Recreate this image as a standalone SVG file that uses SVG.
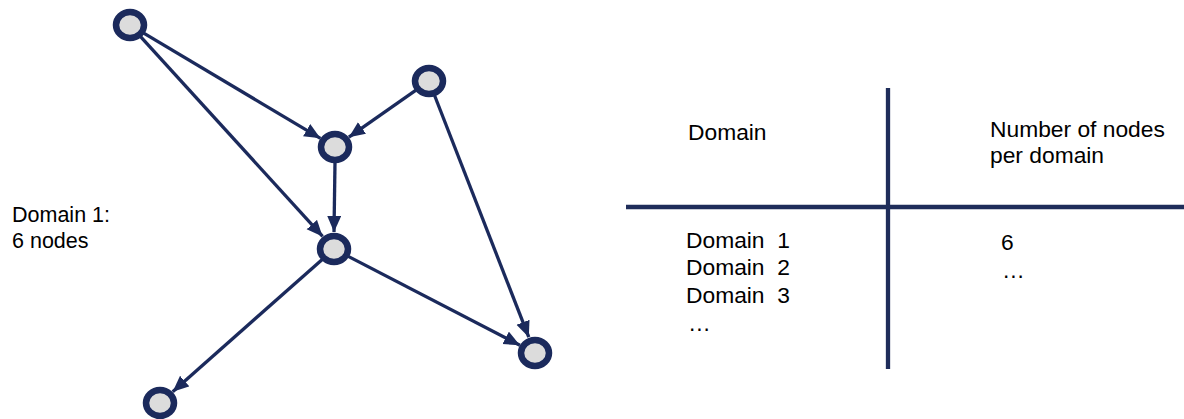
<svg xmlns="http://www.w3.org/2000/svg" width="1184" height="419" viewBox="0 0 1184 419">
<style>
.node{fill:#dcdcdc;stroke:#1b2a5c;stroke-width:6.5}
.edge{stroke:#1b2a5c;stroke-width:3.3;fill:none}
.rule{stroke:#1f2d5a;stroke-width:4.3}
.t{font-family:"Liberation Sans",Arial,sans-serif;fill:#000}
.l{font-size:21.5px}
.tb{font-size:22.8px}
</style>
<defs>
<marker id="arr" markerUnits="userSpaceOnUse" markerWidth="17" markerHeight="15" refX="16" refY="7" orient="auto">
<path d="M0,0 L16,7 L0,14 z" fill="#1b2a5c"/>
</marker>
</defs>
<g id="connectors">
<line class="edge" x1="142.9" y1="32.7" x2="320.4" y2="138.3" marker-end="url(#arr)"/>
<line class="edge" x1="140.1" y1="36.1" x2="322.6" y2="236.4" marker-end="url(#arr)"/>
<line class="edge" x1="416.7" y1="89.6" x2="348.9" y2="137.2" marker-end="url(#arr)"/>
<line class="edge" x1="335" y1="162" x2="334" y2="232" marker-end="url(#arr)"/>
<line class="edge" x1="434.4" y1="95" x2="528.8" y2="337.2" marker-end="url(#arr)"/>
<line class="edge" x1="347.3" y1="255.9" x2="519.9" y2="345.2" marker-end="url(#arr)"/>
<line class="edge" x1="322.8" y1="258.9" x2="172.7" y2="391.7" marker-end="url(#arr)"/>
</g>
<g id="nodeA"><ellipse class="node" cx="130" cy="25" rx="14" ry="13"/></g>
<g id="nodeB"><ellipse class="node" cx="335" cy="147" rx="14" ry="13"/></g>
<g id="nodeC"><ellipse class="node" cx="429" cy="81" rx="14" ry="13"/></g>
<g id="nodeD"><ellipse class="node" cx="334" cy="249" rx="14" ry="13"/></g>
<g id="nodeE"><ellipse class="node" cx="535" cy="353" rx="14" ry="13"/></g>
<g id="nodeF"><ellipse class="node" cx="160" cy="403" rx="14" ry="13"/></g>
<g id="label">
<text class="t l" x="12" y="222">Domain 1:</text>
<text class="t l" x="12" y="248">6 nodes</text>
</g>
<g id="table">
<line class="rule" x1="888" y1="88" x2="888" y2="369"/>
<line class="rule" x1="626" y1="207" x2="1184" y2="207"/>
<text class="t tb" x="688" y="140">Domain</text>
<text class="t tb" x="990" y="137">Number of nodes</text>
<text class="t tb" x="990" y="163">per domain</text>
<text class="t tb" x="686" y="248" xml:space="preserve">Domain  1</text>
<text class="t tb" x="686" y="275" xml:space="preserve">Domain  2</text>
<text class="t tb" x="686" y="303" xml:space="preserve">Domain  3</text>
<text class="t tb" x="688" y="331">…</text>
<text class="t tb" x="1001" y="250">6</text>
<text class="t tb" x="1002" y="278">…</text>
</g>
</svg>
